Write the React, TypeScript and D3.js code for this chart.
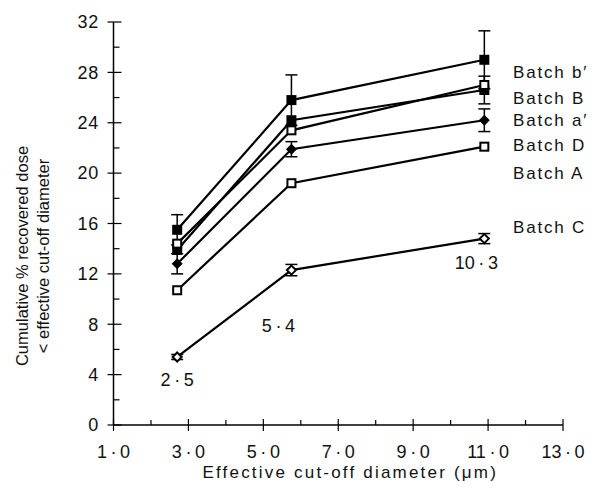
import React from "react";
import * as d3 from "d3";

// values
const xPositions = [2.7, 5.75, 10.9];
const xLabels = ["2·5", "5·4", "10·3"];
const xLabelOffsets = [-1.8, -4.45, -1.9]; // y units relative to Batch C point
const xLabelShift = [0, -13, -8]; // px

const batchNames = ["Batch b′", "Batch B", "Batch a′", "Batch D", "Batch A", "Batch C"];
const batchMarkers = ["filled", "filled", "open", "diamond", "open", "opendiamond"];
const bB1 = [15.5, 25.8, 29.0];
const bB = [13.9, 24.2, 26.6];
const bA1 = [14.4, 23.4, 27.0];
const bD = [12.8, 21.9, 24.2];
const bA = [10.7, 19.2, 22.1];
const bC = [5.4, 12.3, 14.8];
const batchValues = [bB1, bB, bA1, bD, bA, bC];
const errB1 = [1.2, 2.0, 2.3];
const errB = [0, 0, 1.1];
const errA1 = [0, 0, 0];
const errD = [0.8, 0.6, 0.9];
const errA = [0, 0, 0];
const errC = [0.2, 0.45, 0.4];
const batchErrors = [errB1, errB, errA1, errD, errA, errC];
const labelY = [28.0, 26.0, 24.2, 22.2, 20.0, 15.7];

const yTicks = [0, 4, 8, 12, 16, 20, 24, 28, 32];
const xTicks = [1, 3, 5, 7, 9, 11, 13];

export default function App() {
  const width = 616;
  const height = 497;
  const x = d3.scaleLinear().domain([1, 13]).range([113.5, 563]);
  const y = d3.scaleLinear().domain([0, 32]).range([425, 22]);
  const line = d3
    .line<number>()
    .x((d, i) => x(xPositions[i]))
    .y(d => y(d));
  const font = "'Liberation Sans', Arial, sans-serif";

  const marker = (kind: string, cx: number, cy: number, key: string) => {
    const s = 4.5;
    if (kind === "filled")
      return <rect key={key} x={cx - s - 0.5} y={cy - s - 0.5} width={2 * s + 1} height={2 * s + 1} fill="#000" />;
    if (kind === "open")
      return <rect key={key} x={cx - s + 0.5} y={cy - s + 0.5} width={2 * s - 1} height={2 * s - 1} fill="#fff" stroke="#000" strokeWidth={2} />;
    const d = 5.5;
    const pts = `${cx},${cy - d} ${cx + d},${cy} ${cx},${cy + d} ${cx - d},${cy}`;
    if (kind === "diamond") return <polygon key={key} points={pts} fill="#000" />;
    return <polygon key={key} points={`${cx},${cy - 4.5} ${cx + 4.5},${cy} ${cx},${cy + 4.5} ${cx - 4.5},${cy}`} fill="#fff" stroke="#000" strokeWidth={2} />;
  };

  const minorY = d3.range(2, 32, 4);
  const minorX = d3.range(2, 13, 2);

  return (
    <svg width={width} height={height} style={{ position: "absolute", left: 0, top: 0 }} fontFamily={font} fill="#111">
      <rect width={width} height={height} fill="#fff" />
      {/* axes */}
      <line x1={x(1)} x2={x(1)} y1={y(32)} y2={y(0)} stroke="#000" strokeWidth={1.5} />
      <line x1={x(1)} x2={x(13)} y1={y(0)} y2={y(0)} stroke="#000" strokeWidth={1.5} />
      {yTicks.map(t => (
        <g key={"yt" + t}>
          <line x1={x(1) - 6} x2={x(1) + 8} y1={y(t)} y2={y(t)} stroke="#000" strokeWidth={1.2} />
          <text x={99} y={y(t)} dy="0.35em" textAnchor="end" fontSize={18} letterSpacing={0.8}>
            {t}
          </text>
        </g>
      ))}
      {minorY.map(t => (
        <line key={"ym" + t} x1={x(1)} x2={x(1) + 6} y1={y(t)} y2={y(t)} stroke="#000" strokeWidth={1.2} />
      ))}
      {xTicks.map(t => (
        <g key={"xt" + t}>
          <line x1={x(t)} x2={x(t)} y1={y(0) - 6} y2={y(0) + 6} stroke="#000" strokeWidth={1.2} />
          <text x={x(t)} y={452} dy="0.35em" textAnchor="middle" fontSize={18}>
            {t.toFixed(1).replace(".", "\u2009·\u2009")}
          </text>
        </g>
      ))}
      {minorX.map(t => (
        <line key={"xm" + t} x1={x(t)} x2={x(t)} y1={y(0) - 5} y2={y(0)} stroke="#000" strokeWidth={1.2} />
      ))}
      <text x={x(7) + 12} y={478} textAnchor="middle" fontSize={17} letterSpacing={2.2}>
        Effective cut-off diameter (μm)
      </text>
      <g transform="translate(28,256) rotate(-90)">
        <text x={0} y={0} textAnchor="middle" fontSize={16.5}>
          Cumulative % recovered dose
        </text>
        <text x={0} y={21} textAnchor="middle" fontSize={16.5}>
          &lt; effective cut-off diameter
        </text>
      </g>
      {/* series lines */}
      {batchValues.map((vals, i) => (
        <path key={"l" + i} d={line(vals) || ""} fill="none" stroke="#000" strokeWidth={2.2} />
      ))}
      {/* error bars */}
      {batchValues.map((vals, i) =>
        vals.map((v, j) => {
          const e = batchErrors[i][j];
          if (!e) return null;
          const cx = x(xPositions[j]);
          return (
            <g key={"e" + i + "-" + j} stroke="#000" strokeWidth={1.5}>
              <line x1={cx} x2={cx} y1={y(v - e)} y2={y(v + e)} />
              <line x1={cx - 6} x2={cx + 6} y1={y(v + e)} y2={y(v + e)} />
              <line x1={cx - 6} x2={cx + 6} y1={y(v - e)} y2={y(v - e)} />
            </g>
          );
        })
      )}
      {/* markers */}
      {batchValues.map((vals, i) =>
        vals.map((v, j) => marker(batchMarkers[i], x(xPositions[j]), y(v), "m" + i + "-" + j))
      )}
      {/* batch labels */}
      {batchNames.map((n, i) => (
        <text key={"bl" + i} x={513} y={y(labelY[i])} dy="0.35em" fontSize={17} letterSpacing={1.8}>
          {n}
        </text>
      ))}
      {/* point annotations */}
      {xLabels.map((l, j) => (
        <text key={"xl" + j} x={x(xPositions[j]) + xLabelShift[j]} y={y(bC[j] + xLabelOffsets[j])} dy="0.35em" textAnchor="middle" fontSize={18}>
          {l.replace("·", "\u2009·\u2009")}
        </text>
      ))}
    </svg>
  );
}
